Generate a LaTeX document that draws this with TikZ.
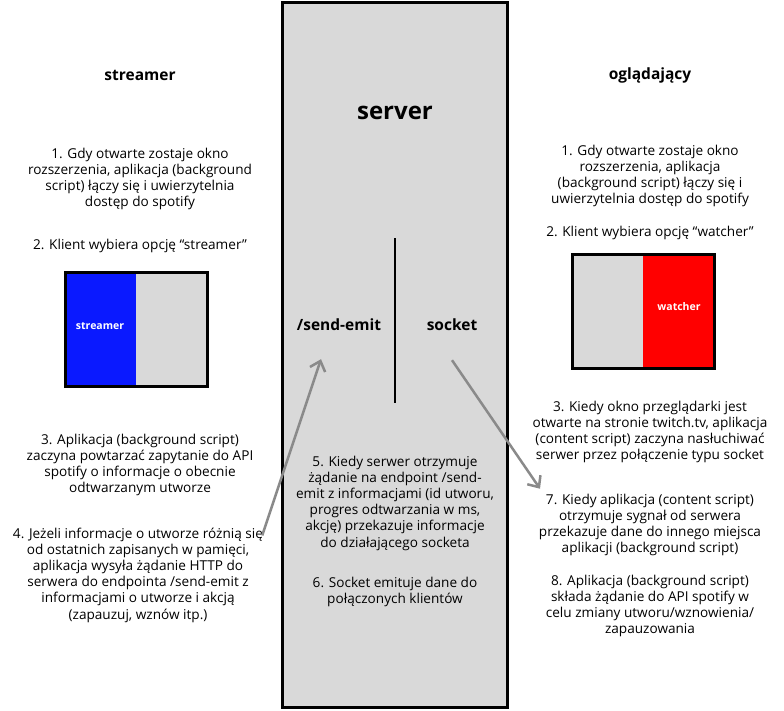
\documentclass[tikz,border=0pt]{standalone}
\usepackage{fontspec}
\setmainfont{Open Sans}
\usetikzlibrary{arrows.meta}
\definecolor{srvgray}{HTML}{D9D9D9}
\definecolor{strblue}{HTML}{0A19FF}
\definecolor{watchred}{HTML}{FF0000}
\definecolor{flowgray}{HTML}{8A8A8A}
\begin{document}
\begin{tikzpicture}[x=1pt,y=-1pt,
		txt/.style={align=center,inner sep=0pt,font=\fontsize{13.6}{16.2}\selectfont},
		coltitle/.style={inner sep=0pt,font=\fontsize{15.5}{16}\selectfont\bfseries},
		part/.style={inner sep=0pt,font=\fontsize{15.5}{16}\selectfont\bfseries},
		btnlabel/.style={inner sep=0pt,text=white,font=\fontsize{10.5}{12}\selectfont\bfseries},
		flow/.style={draw=flowgray,line width=2.5pt,-{Straight Barb[length=9pt,width=16pt]}}]
		\useasboundingbox (0,0) rectangle (784,710);
		
		%% Server column
		\draw[line width=3pt,fill=srvgray] (282,2) rectangle (507,707);
		\node[inner sep=0pt,font=\fontsize{24}{26}\selectfont\bfseries] (server) at (395,113) {server};
		\draw[line width=2pt] (395,238) -- (395,403);
		\node[part] (sendemit) at (339,325) {/send-emit};
		\node[part] (socket) at (452,325) {socket};
		\node[txt] (s5) at (395,503) {5. Kiedy serwer otrzymuje\\ żądanie na endpoint /send-\\ emit z informacjami (id utworu,\\ progres odtwarzania w ms,\\ akcję) przekazuje informacje\\ do działającego socketa};
		\node[txt] (s6) at (395,592) {6. Socket emituje dane do\\ połączonych klientów};
		
		%% Streamer column
		\node[coltitle] (streamer) at (140,75) {streamer};
		\node[txt] (l1) at (140,179) {1. Gdy otwarte zostaje okno\\ rozszerzenia, aplikacja (background\\ script) łączy się i uwierzytelnia\\ dostęp do spotify};
		\node[txt] (l2) at (140,246) {2. Klient wybiera opcję “streamer”};
		\fill[strblue] (65,272) rectangle (136,386);
		\fill[srvgray] (136,272) rectangle (207,386);
		\draw[line width=3pt] (65,272) rectangle (207,386);
		\node[btnlabel] (btnstr) at (100,326) {streamer};
		\node[txt] (l3) at (140,465) {3. Aplikacja (background script)\\ zaczyna powtarzać zapytanie do API\\ spotify o informacje o obecnie\\ odtwarzanym utworze};
		\node[txt] (l4) at (138,575) {4. Jeżeli informacje o utworze różnią się\\ od ostatnich zapisanych w pamięci,\\ aplikacja wysyła żądanie HTTP do\\ serwera do endpointa /send-emit z\\ informacjami o utworze i akcją\\ (zapauzuj, wznów itp.)};
		
		%% Watcher column
		\node[coltitle] (watcher) at (650,75) {oglądający};
		\node[txt] (r1) at (650,176) {1. Gdy otwarte zostaje okno\\ rozszerzenia, aplikacja\\ (background script) łączy się i\\ uwierzytelnia dostęp do spotify};
		\node[txt] (r2) at (650,233) {2. Klient wybiera opcję “watcher”};
		\fill[srvgray] (572,254) rectangle (643,368);
		\fill[watchred] (643,254) rectangle (714,368);
		\draw[line width=3pt] (572,254) rectangle (714,368);
		\node[btnlabel] (btnwat) at (679,307) {watcher};
		\node[txt] (r3) at (650,432) {3. Kiedy okno przeglądarki jest\\ otwarte na stronie twitch.tv, aplikacja\\ (content script) zaczyna nasłuchiwać\\ serwer przez połączenie typu socket};
		\node[txt] (r7) at (650,525) {7. Kiedy aplikacja (content script)\\ otrzymuje sygnał od serwera\\ przekazuje dane do innego miejsca\\ aplikacji (background script)};
		\node[txt] (r8) at (650,606) {8. Aplikacja (background script)\\ składa żądanie do API spotify w\\ celu zmiany utworu/wznowienia/\\ zapauzowania};
		
		%% Flow arrows
		\coordinate (a1) at ([xshift=-1pt,yshift=-8pt]l4.north east);
		\coordinate (a2) at ([xshift=-18pt,yshift=-28pt]sendemit.south);
		\coordinate (b1) at ([xshift=0pt,yshift=-29pt]socket.south);
		\coordinate (b2) at ([xshift=-110pt,yshift=5pt]r7.north);
		\draw[flow] (a1) -- (a2);
		\draw[flow] (b1) -- (b2);
	\end{tikzpicture}
\end{document}
